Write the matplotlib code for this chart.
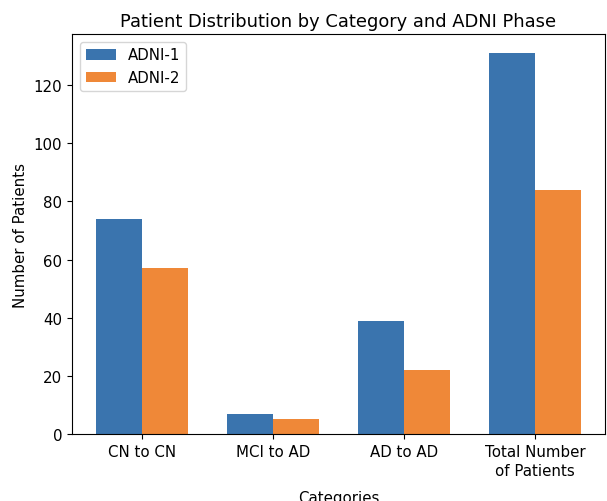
import matplotlib
matplotlib.use("Agg")
import matplotlib.pyplot as plt
import numpy as np

categories = ["CN to CN", "MCI to AD", "AD to AD", "Total Number\nof Patients"]
adni1 = [74, 7, 39, 131]
adni2 = [57, 5, 22, 84]

plt.rcParams["font.size"] = 10.8
fig = plt.figure(figsize=(6.07, 5.02), dpi=100)
ax = fig.add_axes([72/607, 67/502, 533/607, 400/502])
x = np.arange(len(categories))
w = 0.35
ax.bar(x - w/2, adni1, w, label="ADNI-1", color="#3a74ae")
ax.bar(x + w/2, adni2, w, label="ADNI-2", color="#ef8838")
ax.set_xticks(x)
ax.set_xticklabels(categories, linespacing=1.35)
ax.set_ylabel("Number of Patients")
ax.set_xlabel("Categories", labelpad=9)
ax.set_title("Patient Distribution by Category and ADNI Phase", fontsize=12.9)
ax.legend(loc="upper left")
fig.savefig("out.png", dpi=100)
